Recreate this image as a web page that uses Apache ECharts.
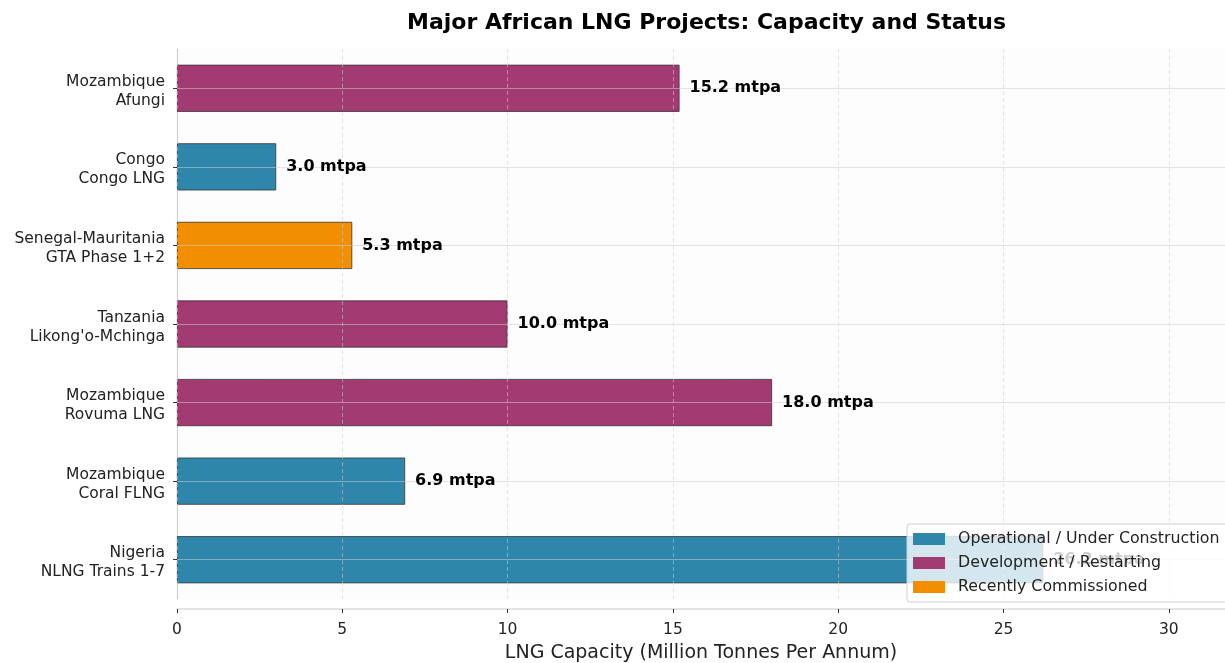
<!DOCTYPE html>
<html>
<head>
<meta charset="utf-8">
<script src="https://cdn.jsdelivr.net/npm/echarts@6/dist/echarts.min.js"></script>
<style>
  html, body { margin: 0; padding: 0; background: #fff; }
  #chart { width: 1225px; height: 663px; }
</style>
</head>
<body>
<div id="chart"></div>
<script>
// projects, listed top to bottom as in the chart
const projects = [
  'Mozambique\nAfungi',
  'Congo\nCongo LNG',
  'Senegal-Mauritania\nGTA Phase 1+2',
  'Tanzania\nLikong\'o-Mchinga',
  'Mozambique\nRovuma LNG',
  'Mozambique\nCoral FLNG',
  'Nigeria\nNLNG Trains 1-7'
]
const capacity = [15.2, 3.0, 5.3, 10.0, 18.0, 6.9, 26.2]
const status = ['dev', 'op', 'recent', 'dev', 'dev', 'op', 'op']
const xTicks = [0, 5, 10, 15, 20, 25, 30]

const groups = [
  { key: 'op', name: 'Operational / Under Construction', color: '#2E86AB' },
  { key: 'dev', name: 'Development / Restarting', color: '#A23B72' },
  { key: 'recent', name: 'Recently Commissioned', color: '#F18F01' }
]

const font = 'DejaVu Sans, Liberation Sans, sans-serif'
const gridColor = 'rgba(205,205,205,0.55)'

const series = groups.map(function (g, gi) {
  const s = {
    name: g.name,
    type: 'bar',
    stack: 'cap',
    barWidth: '60%',
    data: capacity.map(function (v, i) { return status[i] === g.key ? v : '-' }),
    itemStyle: { color: g.color, borderColor: '#333', borderWidth: 0.8 }
  }
  if (gi === 0) {
    // horizontal grid lines through bar centres, drawn over the bars
    s.markLine = {
      silent: true,
      symbol: 'none',
      z: 3,
      label: { show: false },
      lineStyle: { color: gridColor, type: 'solid', width: 1 },
      data: projects.map(function (p) { return { yAxis: p } })
    }
  }
  return s
})

// value labels sit on their own layer, above the grid lines
series.push({
  name: 'labels',
  type: 'scatter',
  z: 10,
  symbolSize: 0,
  silent: true,
  itemStyle: { opacity: 1 },
  data: capacity.map(function (v, i) { return [v, projects[i]] }),
  label: {
    show: true,
    position: 'right',
    distance: 10,
    fontFamily: font,
    fontSize: 16,
    fontWeight: 'bold',
    color: '#000',
    opacity: 1,
    formatter: function (p) { return p.value[0].toFixed(1) + ' mtpa' }
  }
})

const chart = echarts.init(document.getElementById('chart'))
chart.setOption({
  backgroundColor: '#fff',
  animation: false,
  title: {
    text: 'Major African LNG Projects: Capacity and Status',
    left: 402,
    top: 7,
    textStyle: { fontFamily: font, fontSize: 22, fontWeight: 'bold', color: '#000' }
  },
  grid: {
    left: 177,
    right: 0,
    top: 49,
    bottom: 64,
    outerBoundsMode: 'none',
    containLabel: false,
    show: true,
    backgroundColor: '#fdfdfd',
    borderWidth: 0
  },
  legend: {
    orient: 'vertical',
    left: 907,
    top: 524,
    z: 20,
    padding: [7, 8, 7, 6],
    itemWidth: 32,
    itemHeight: 12,
    itemGap: 8,
    icon: 'rect',
    backgroundColor: 'rgba(255,255,255,0.8)',
    borderColor: '#d0d0d0',
    borderWidth: 1,
    borderRadius: 3,
    textStyle: { fontFamily: font, fontSize: 15.8, color: '#222', padding: [0, 0, 0, 8] },
    itemStyle: { borderWidth: 0 },
    data: groups.map(function (g) { return g.name })
  },
  xAxis: {
    type: 'value',
    min: 0,
    max: 31.7,
    interval: 5,
    offset: 10,
    z: 5,
    name: 'LNG Capacity (Million Tonnes Per Annum)',
    nameLocation: 'middle',
    nameGap: 35,
    nameTextStyle: { fontFamily: font, fontSize: 19, color: '#222' },
    axisLine: { show: true, lineStyle: { color: '#dcdcdc', width: 1.5 } },
    axisTick: { show: true, length: 4, lineStyle: { color: '#333' } },
    axisLabel: {
      fontFamily: font,
      fontSize: 15.5,
      color: '#222',
      margin: 13,
      formatter: function (v) { return xTicks.indexOf(v) >= 0 ? String(v) : '' }
    },
    splitLine: { show: true, lineStyle: { color: gridColor, type: [4, 3], width: 1 } }
  },
  yAxis: {
    type: 'category',
    inverse: true,
    data: projects,
    axisLine: { show: true, lineStyle: { color: '#d0d0d0', width: 1.2 } },
    axisTick: { show: true, alignWithLabel: true, length: 4, lineStyle: { color: '#333' } },
    axisLabel: {
      fontFamily: font,
      fontSize: 15.5,
      color: '#222',
      lineHeight: 19,
      margin: 12,
      align: 'right',
      formatter: function (v) {
        const parts = v.split('\n')
        return '{a|' + parts[0] + '}\n{a|' + parts[1] + '}'
      },
      rich: {
        a: { fontFamily: font, fontSize: 15.5, color: '#222', lineHeight: 19, padding: [6, 0, 0, 0] }
      }
    },
    splitLine: { show: false }
  },
  series: series
})
</script>
</body>
</html>
